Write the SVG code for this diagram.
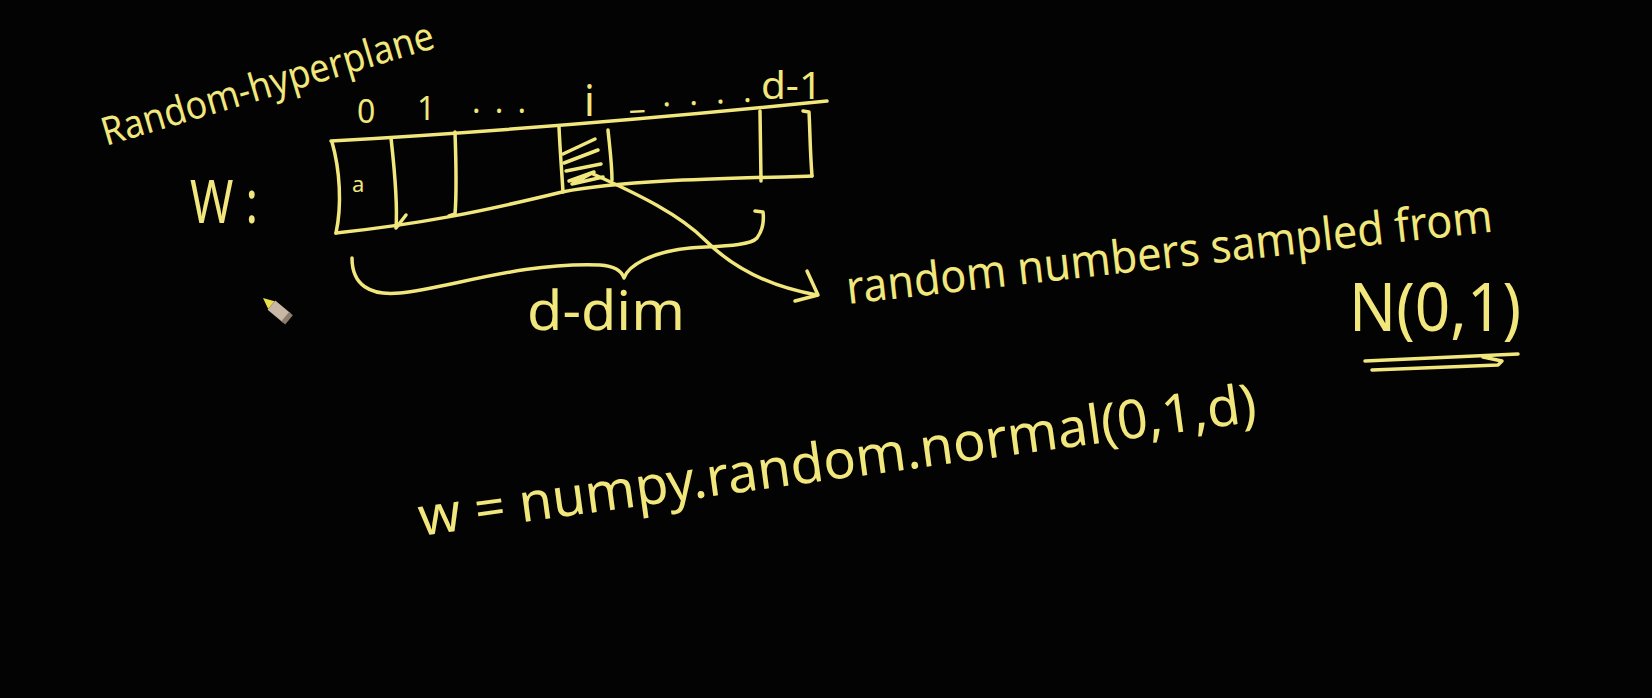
<svg xmlns="http://www.w3.org/2000/svg" width="1652" height="698" viewBox="0 0 1652 698">
<style>
.ink{fill:none;stroke:#f1e77c;stroke-width:3.5;stroke-linecap:round;stroke-linejoin:round}
.txt{fill:#f1e77c;font-family:"Noto Sans","Liberation Sans",sans-serif}
</style>
<rect x="0" y="0" width="1652" height="698" fill="#030303"/>
<g id="title">
<text class="txt" x="106" y="146" font-size="39" textLength="345" lengthAdjust="spacingAndGlyphs" transform="rotate(-16.6 106 146)">Random-hyperplane</text>
</g>
<g id="w-label">
<text class="txt" x="190" y="223" font-size="60" textLength="68" lengthAdjust="spacingAndGlyphs">W :</text>
</g>
<g id="array">
<path class="ink" d="M331 141 Q560 128 827 101"/>
<path class="ink" d="M332 142 C340 170 342 205 336 233"/>
<path class="ink" d="M336 233 C420 224 480 212 562 192 C620 181 700 179 812 176"/>
<path class="ink" d="M391 138 C394 165 398 200 396 228 M406 215 L396 228"/>
<path class="ink" d="M455 132 C456 160 457 190 455 214 L449 216"/>
<path class="ink" d="M559 127 C560 150 562 175 563 192"/>
<path class="ink" d="M608 130 C610 150 612 165 612 180"/>
<path class="ink" d="M760 111 L761 181"/>
<path class="ink" d="M803 111 L809 112 C810 130 810 150 812 176"/>
<path class="ink" d="M563 154 L595 139 M564 163 L598 150 M566 171 L601 164 M569 181 L594 172 L572 184 L603 177"/>
<text class="txt" x="352" y="192" font-size="22">a</text>
</g>
<g id="index-labels">
<text class="txt" x="357" y="123" font-size="32">0</text>
<text class="txt" x="417" y="120" font-size="32">1</text>
<text class="txt" x="472" y="113" font-size="32" textLength="54" lengthAdjust="spacing">...</text>
<text class="txt" x="584" y="116" font-size="42">i</text>
<text class="txt" x="630" y="108" font-size="32" textLength="122" lengthAdjust="spacing" transform="rotate(-3 630 108)">_....</text>
<text class="txt" x="761" y="99" font-size="38" textLength="61" lengthAdjust="spacingAndGlyphs">d-1</text>
</g>
<g id="brace">
<path class="ink" d="M352 258 C352 285 370 296 400 293 C450 288 520 262 600 265 C615 266 622 272 624 278 C628 266 650 252 690 248 C720 246 750 246 757 238 C763 230 764 220 763 212 L755 211"/>
</g>
<g id="dim-label">
<text class="txt" x="527" y="330" font-size="54" textLength="158" lengthAdjust="spacingAndGlyphs">d-dim</text>
</g>
<g id="connectors">
<path class="ink" d="M593 174 C640 195 680 215 705 240 C725 260 760 285 817 295"/>
<path class="ink" d="M807 271 L818 295 L795 301"/>
</g>
<g id="random-label">
<text class="txt" x="848" y="304" font-size="46" textLength="650" lengthAdjust="spacingAndGlyphs" transform="rotate(-6.4 848 304)">random numbers sampled from</text>
</g>
<g id="normal-label">
<text class="txt" x="1349" y="331" font-size="68" textLength="172" lengthAdjust="spacingAndGlyphs">N(0,1)</text>
<path class="ink" d="M1365 361 L1518 354 M1483 357 L1502 361 L1498 365 L1372 370"/>
</g>
<g id="formula">
<text class="txt" x="421" y="536" font-size="54" textLength="845" lengthAdjust="spacingAndGlyphs" transform="rotate(-7.8 421 536)">w = numpy.random.normal(0,1,d)</text>
</g>
<g id="cursor" transform="rotate(40 263 298)">
<polygon points="263,298 274,293 274,303" fill="#e8e04a"/>
<rect x="274" y="292" width="20" height="12" fill="#c7b7a4"/>
<rect x="292" y="292" width="5" height="12" fill="#8c7c6c"/>
</g>
</svg>
